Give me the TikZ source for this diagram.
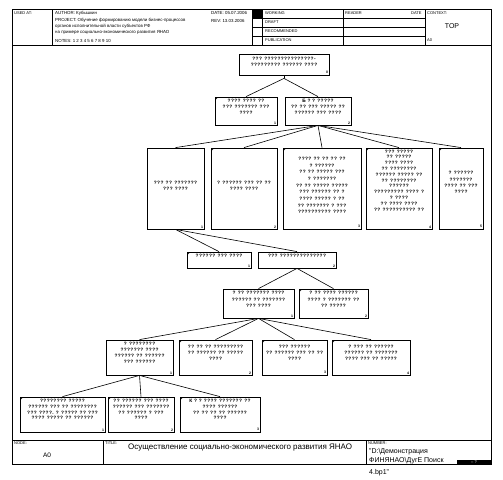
\documentclass[tikz,border=0pt]{standalone}
\usepackage{fontspec}
\setmainfont{Liberation Sans}
\newfontfamily\qfont[LetterSpace=8]{Liberation Sans Bold}
\newcommand\treebox[9]{%
  \node[box, minimum width={(#4-#2)*1pt}, minimum height={(#5-#3)*1pt}] (#1) at ({(#2+#4)/2},{(#3+#5)/2}) {};
  \node[boxtext, #9] (#1t) at ([yshift=#8]#1.center) {#6};
  \node[numtext] (#1n) at ([xshift=-1.2pt,yshift=1.2pt]#1.south east) {#7};
}
\newcommand\leafmark[1]{\draw[line width=0.5pt] ([xshift=0.8pt,yshift=-3pt]#1.north west) -- ([xshift=3pt,yshift=-0.8pt]#1.north west);}
\begin{document}
\begin{tikzpicture}[x=1pt,y=-1pt,
  frame/.style={line width=0.8pt},
  box/.style={draw, line width=0.8pt, inner sep=0pt},
  boxtext/.style={inner sep=0pt, align=center, font=\qfont\fontsize{4.8}{6.2}\selectfont},
  numtext/.style={inner sep=0pt, anchor=south east, font=\bfseries\fontsize{3.5}{4}\selectfont},
  link/.style={line width=0.6pt},
  lbl/.style={inner sep=0pt, anchor=west, font=\fontsize{4}{5}\selectfont},
  hdr/.style={inner sep=0pt, anchor=west, font=\fontsize{4.4}{5.6}\selectfont}]
\useasboundingbox (0,0) rectangle (503,479);
% ---------- frame ----------
\draw[frame] (12,9) rectangle (491,464);
\draw[frame] (12,45) -- (491,45);
\draw[frame] (52,9) -- (52,45);
\draw[frame] (252,9) -- (252,45);
\draw[frame] (262,9) -- (262,45);
\draw[frame] (343,9) -- (343,45);
\draw[frame] (425,9) -- (425,45);
\foreach \yy in {18,27,36} \draw[frame] (252,\yy) -- (425,\yy);
\fill (252,9) rectangle (262,18);
% header texts
\node[lbl] (usedat) at (14,13) {USED AT:};
\node[hdr] (author) at (55,13) {AUTHOR: Кубышкин};
\node[hdr, align=left, anchor=north west] (project) at (55,18.5) {PROJECT: Обучение формированию модели бизнес-процессов\\органов исполнительной власти субъектов РФ\\на примере социально-экономического развития ЯНАО};
\node[hdr] (notes) at (55,40.5) {NOTES: 1 2 3 4 5 6 7 8 9 10};
\node[hdr] (date) at (211,13) {DATE: 05.07.2006};
\node[hdr] (rev) at (211,21) {REV: 13.03.2006};
\node[lbl] (working) at (265,13.5) {WORKING};
\node[lbl] (draft) at (265,22.5) {DRAFT};
\node[lbl] (recomm) at (265,31.5) {RECOMMENDED};
\node[lbl] (public) at (265,40.5) {PUBLICATION};
\node[lbl] (reader) at (345,13.5) {READER};
\node[lbl] (rdate) at (411,13.5) {DATE};
\node[lbl] (context) at (427,13) {CONTEXT:};
\node[inner sep=0pt, font=\fontsize{7}{8}\selectfont] (topctx) at (452,26) {TOP};
\node[lbl] (ctxnode) at (427,40.5) {A0};
% ---------- bottom block ----------
\draw[frame] (12,440) -- (491,440);
\draw[frame] (103,440) -- (103,464);
\draw[frame] (366,440) -- (366,464);
\node[lbl] (nodelbl) at (14,443.5) {NODE:};
\node[inner sep=0pt, font=\fontsize{6.5}{7}\selectfont] (nodeval) at (47,455) {A0};
\node[lbl] (titlelbl) at (105,443.5) {TITLE:};
\node[inner sep=0pt, anchor=west, font=\fontsize{8}{9}\selectfont] (titleval) at (128,448) {Осуществление социально-экономического развития ЯНАО};
\node[lbl] (numlbl) at (368,443.5) {NUMBER:};
\node[inner sep=0pt, anchor=west, font=\fontsize{7}{8}\selectfont] (num1) at (369,452) {"D:\textbackslash Демонстрация};
\node[inner sep=0pt, anchor=west, font=\fontsize{7}{8}\selectfont] (num2) at (369,461) {ФИНЯНАО\textbackslash ДугЕ Поиск};
\fill (457,459.5) rectangle (491,464.4);
\node[inner sep=0pt, text=white, font=\fontsize{4}{4}\selectfont] (num2b) at (474,462) {-- ?};
\node[inner sep=0pt, anchor=west, font=\fontsize{7}{8}\selectfont] (num3) at (369,473) {4.bp1"};
% ---------- tree ----------
\treebox{top}{239}{54}{329}{75}{??? ???????????????-\\????????? ?????? ????}{0}{2.5pt}{}
\treebox{bA}{215}{97}{277}{125}{???? ???? ??\\??? ??????? ???\\????}{1}{4pt}{}
\treebox{bB}{285}{97}{351}{125}{Б ? ? ?????\\?? ?? ??? ????? ??\\?????? ??? ????}{2}{4pt}{}
\treebox{cA}{147}{148}{204}{229}{??? ?? ???????\\??? ????}{1}{2.5pt}{}
\treebox{cB}{211}{148}{277}{229}{? ?????? ??? ?? ??\\???? ????}{2}{2.5pt}{}
\treebox{cC}{283}{148}{361}{229}{???? ?? ?? ?? ??\\? ??????\\?? ?? ????? ???\\? ???????\\?? ?? ????? ?????\\??? ?????? ?? ?\\???? ????? ? ??\\?? ??????? ? ???\\?????????? ????}{3}{3pt}{font=\qfont\fontsize{4.8}{6.7}\selectfont}
\treebox{cD}{366}{148}{432}{229}{??? ?????\\?? ?????\\???? ????\\?? ????????\\?????? ????? ??\\?? ????????\\??????\\????????? ???? ?\\? ????\\?? ???? ????\\?? ?????????? ??}{4}{8pt}{font=\qfont\fontsize{4.8}{5.8}\selectfont}
\treebox{cE}{439}{148}{483}{229}{? ??????\\???????\\???? ?? ???\\????}{5}{6pt}{}
\treebox{dF}{187}{252}{251}{268}{?????? ??? ????}{1}{4pt}{}
\treebox{dG}{258}{252}{336}{268}{??? ??????????????}{2}{4pt}{}
\treebox{eH}{223}{289}{294}{318}{? ?? ??????? ????\\?????? ?? ???????\\??? ????}{1}{4pt}{}
\treebox{eI}{299}{289}{368}{318}{? ?? ???? ??????\\???? ? ??????? ??\\?? ?????}{2}{4pt}{}
\treebox{fJ}{106}{340}{173}{375}{? ????????\\??????? ????\\?????? ?? ??????\\??? ??????}{1}{4.5pt}{}
\treebox{fK}{179}{340}{252}{375}{?? ?? ?? ?????????\\?? ?????? ?? ?????\\????}{2}{4.5pt}{}
\treebox{fL}{262}{340}{327}{375}{??? ??????\\?? ?????? ??? ?? ??\\????}{3}{4.5pt}{}
\treebox{fM}{332}{340}{410}{375}{? ??? ?? ??????\\?????? ?? ???????\\???? ??? ?? ?????}{4}{4.5pt}{}
\treebox{gN}{20}{397}{105}{432}{???????? ?????\\?????? ??? ?? ????????\\??? ????. ? ????? ?? ???\\???? ????? ?? ??????}{1}{5pt}{font=\qfont\fontsize{4.8}{5.8}\selectfont}
\treebox{gO}{108}{397}{174}{432}{?? ?????? ??? ????\\?????? ??? ???????\\?? ?????? ? ???\\????}{2}{5pt}{font=\qfont\fontsize{4.8}{5.8}\selectfont}
\treebox{gP}{180}{397}{260}{432}{К ? ? ???? ??????? ??\\???? ??????\\?? ?? ?? ?? ??????\\????}{3}{5pt}{font=\qfont\fontsize{4.8}{5.8}\selectfont}
% leaf marks
\foreach \b in {bA,cB,cC,cD,cE,dF,eI,fK,fL,fM,gN,gO,gP} {\leafmark{\b}}
% connectors
\coordinate (topb) at ([yshift=-3pt]top.south);
\draw[link] (top.south) -- (topb);
\foreach \c in {bA,bB} \draw[link] (topb) -- (\c.north);
\foreach \c in {cA,cB,cC,cD,cE} \draw[link] (bB.south) -- (\c.north);
\foreach \c in {dF,dG} \draw[link] (cA.south) -- (\c.north);
\foreach \c in {eH,eI} \draw[link] (dG.south) -- (\c.north);
\foreach \c in {fJ,fK,fL,fM} \draw[link] (eH.south) -- (\c.north);
\foreach \c in {gN,gO,gP} \draw[link] (fJ.south) -- (\c.north);
\end{tikzpicture}
\end{document}
